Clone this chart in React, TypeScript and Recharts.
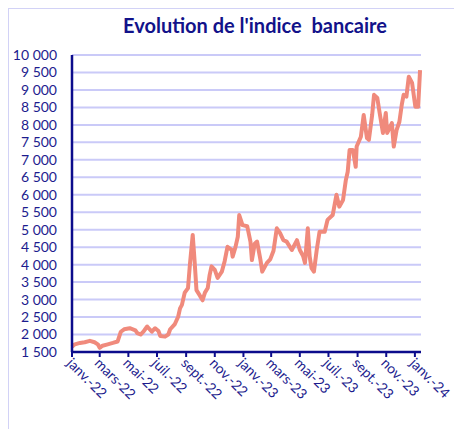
import React from "react";
import { LineChart, Line, XAxis, YAxis, CartesianGrid } from "recharts";

const dates: string[] = [
  "2022-01-01", "2022-01-07", "2022-01-18", "2022-01-28", "2022-02-08", "2022-02-18", "2022-02-25",
  "2022-03-01", "2022-03-07", "2022-03-18", "2022-03-29", "2022-04-08", "2022-04-15", "2022-04-22",
  "2022-05-04", "2022-05-16", "2022-05-20", "2022-05-27", "2022-06-03", "2022-06-10", "2022-06-20",
  "2022-06-27", "2022-07-04", "2022-07-08", "2022-07-18", "2022-07-25", "2022-07-29", "2022-08-08",
  "2022-08-15", "2022-08-19", "2022-08-23", "2022-08-29", "2022-09-05", "2022-09-09", "2022-09-15",
  "2022-09-19", "2022-09-23", "2022-09-30", "2022-10-06", "2022-10-11", "2022-10-17", "2022-10-21",
  "2022-10-25", "2022-11-01", "2022-11-07", "2022-11-16", "2022-11-22", "2022-11-28", "2022-12-07",
  "2022-12-09", "2022-12-15", "2022-12-20", "2022-12-23", "2022-12-30", "2023-01-09", "2023-01-16",
  "2023-01-19", "2023-01-25", "2023-01-30", "2023-02-06", "2023-02-10", "2023-02-20", "2023-02-27",
  "2023-03-06", "2023-03-13", "2023-03-20", "2023-03-27", "2023-04-03", "2023-04-14", "2023-04-25",
  "2023-05-01", "2023-05-08", "2023-05-12", "2023-05-18", "2023-05-22", "2023-05-26", "2023-05-31",
  "2023-06-06", "2023-06-12", "2023-06-23", "2023-06-29", "2023-07-10", "2023-07-18", "2023-07-24",
  "2023-08-01", "2023-08-07", "2023-08-11", "2023-08-15", "2023-08-22", "2023-08-28", "2023-08-30",
  "2023-09-08", "2023-09-14", "2023-09-21", "2023-09-25", "2023-10-02", "2023-10-06", "2023-10-13",
  "2023-10-18", "2023-10-25", "2023-10-31", "2023-11-03", "2023-11-13", "2023-11-17", "2023-11-23",
  "2023-11-29", "2023-12-04", "2023-12-08", "2023-12-14", "2023-12-19", "2023-12-26", "2024-01-02",
  "2024-01-08", "2024-01-12",
];

const indexValues: number[] = [
  1650, 1720, 1760, 1780, 1820, 1780, 1720,
  1620, 1680, 1720, 1760, 1800, 2080, 2150,
  2180, 2120, 2040, 2000, 2100, 2230, 2080,
  2180, 2100, 1960, 1940, 2000, 2150, 2300,
  2510, 2750, 2850, 3200, 3330, 4000, 4850,
  4100, 3270, 3120, 2980, 3200, 3330, 3700,
  3950, 3850, 3620, 3800, 4100, 4510, 4420,
  4230, 4500, 4800, 5420, 5130, 5100, 4650,
  4130, 4600, 4660, 4150, 3800, 4050, 4150,
  4400, 5040, 4900, 4700, 4660, 4420, 4700,
  4420, 4250, 4050, 5040, 4230, 3900, 3800,
  4420, 4940, 4940, 5280, 5420, 6000, 5660,
  5850, 6420, 6660, 7280, 7280, 6800, 7380,
  7660, 8280, 7620, 7570, 8280, 8860, 8770,
  8340, 7770, 8340, 7770, 8050, 7380, 7850,
  8090, 8570, 8860, 8810, 9380, 9200, 8520,
  8520, 9570,
];

const tickDates: string[] = [
  "2022-01-01", "2022-03-01", "2022-05-01", "2022-07-01", "2022-09-01", "2022-11-01",
  "2023-01-01", "2023-03-01", "2023-05-01", "2023-07-01", "2023-09-01", "2023-11-01", "2024-01-01",
];
const tickLabels: string[] = [
  "janv.-22", "mars-22", "mai-22", "juil.-22", "sept.-22", "nov.-22",
  "janv.-23", "mars-23", "mai-23", "juil.-23", "sept.-23", "nov.-23", "janv.-24",
];
const yTicks: number[] = [1500, 2000, 2500, 3000, 3500, 4000, 4500, 5000, 5500, 6000, 6500, 7000, 7500, 8000, 8500, 9000, 9500, 10000];

const toDay = (s: string) => {
  const [y, m, d] = s.split("-").map(Number);
  return (Date.UTC(y, m - 1, d) - Date.UTC(2022, 0, 1)) / 86400000;
};

const data = dates.map((d, i) => ({ t: toDay(d), v: indexValues[i] }));
const xTicks = tickDates.map(toDay);

const FONT = "Lato, 'Open Sans', sans-serif";
const LABEL = "#1c1c8e";
const AXIS = "#0c0c8c";

const fmtY = (v: number) => String(v).replace(/\B(?=(\d{3})+(?!\d))/g, " ");

const XTick = (props: any) => {
  const { x, y, payload } = props;
  const idx = xTicks.indexOf(payload.value);
  return (
    <text
      x={0}
      y={0}
      transform={`translate(${x - 6},${y + 7}) rotate(45)`}
      textAnchor="start"
      fill={LABEL}
      fontSize={14}
      fontFamily={FONT}
    >
      {idx >= 0 ? tickLabels[idx] : ""}
    </text>
  );
};

export default function App() {
  return (
    <div style={{ position: "relative", width: 454, height: 421 }}>
      <div
        style={{
          position: "absolute",
          left: -1,
          top: -1,
          width: 470,
          height: 460,
          border: "2px solid #d2d2f6",
          boxSizing: "border-box",
        }}
      />
      <div
        style={{
          position: "absolute",
          left: 0,
          top: 5,
          width: 494,
          textAlign: "center",
          fontFamily: FONT,
          fontWeight: 700,
          fontSize: 20,
          color: "#12128a",
        }}
      >
        Evolution de l'indice&nbsp; bancaire
      </div>
      <div style={{ position: "absolute", left: 0, top: 0 }}>
        <LineChart width={454} height={421} data={data} margin={{ top: 47, right: 41, bottom: 0, left: 0 }}>
          <CartesianGrid vertical={false} stroke="#cacaf8" strokeWidth={2} />
          <XAxis
            type="number"
            dataKey="t"
            domain={[0, 743]}
            ticks={xTicks}
            interval={0}
            height={77}
            tick={<XTick />}
            tickSize={5}
            tickMargin={0}
            axisLine={{ stroke: AXIS, strokeWidth: 2.5 }}
            tickLine={{ stroke: AXIS, strokeWidth: 2 }}
          />
          <YAxis
            type="number"
            domain={[1500, 10000]}
            ticks={yTicks}
            interval={0}
            width={64}
            tickFormatter={fmtY}
            tickLine={false}
            tickSize={6}
            tickMargin={9}
            axisLine={{ stroke: AXIS, strokeWidth: 2.5 }}
            tick={{ fill: LABEL, fontSize: 14, fontFamily: FONT }}
          />
          <Line
            type="linear"
            dataKey="v"
            stroke="#f08a7c"
            strokeWidth={4}
            dot={false}
            isAnimationActive={false}
            strokeLinejoin="round"
          />
        </LineChart>
      </div>
    </div>
  );
}
